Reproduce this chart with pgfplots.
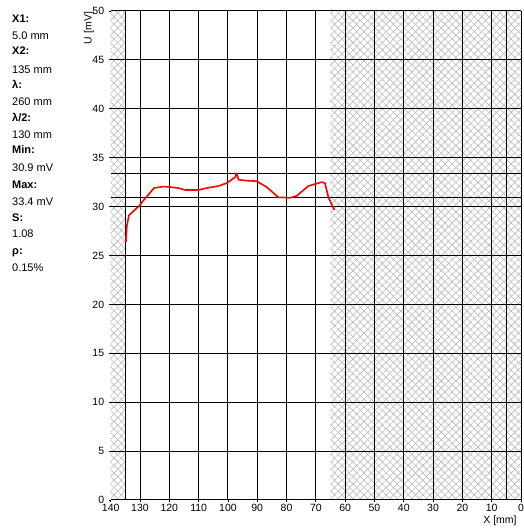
\documentclass[border=0pt]{standalone}
\usepackage{fontspec}
\setmainfont{Liberation Sans}
\usepackage{pgfplots}
\pgfplotsset{compat=1.18}
\usetikzlibrary{patterns.meta}
\begin{document}
\begin{tikzpicture}[font=\fontsize{10.5}{12}\selectfont]
\begin{axis}[
  set layers,
  at={(110.7pt,28pt)}, anchor=south west,
  scale only axis, width=410.3pt, height=489pt,
  xmin=0, xmax=140, ymin=0, ymax=50, x dir=reverse,
  axis x line=bottom, axis y line=left,
  y axis line style={draw=none},
  axis line style={black, line width=1pt, -},
  xtick={0,10,...,130}, extra x ticks={140}, extra x tick style={grid=none},
  ytick={0,5,...,50},
  grid=major, grid style={black, line width=1pt},
  tick style={black, line width=0.8pt},
  tick align=outside, major tick length=2pt,
  /pgf/number format/assume math mode=true,
  ticklabel style={font=\fontsize{10.5}{12}\selectfont},
  xticklabel style={yshift=1pt},
  yticklabel style={xshift=-1pt},
  clip=false,
]
% hatched (excluded) regions
\addplot[on layer=axis background, draw=none, pattern={Lines[angle=45,distance=5.2pt,line width=0.6pt]}, pattern color=gray!55]
  coordinates {(140,0) (135,0) (135,50) (140,50) (140,0)};
\addplot[on layer=axis background, draw=none, pattern={Lines[angle=-45,distance=5.2pt,line width=0.6pt]}, pattern color=gray!55]
  coordinates {(140,0) (135,0) (135,50) (140,50) (140,0)};
\addplot[on layer=axis background, draw=none, pattern={Lines[angle=45,distance=5.2pt,line width=0.6pt]}, pattern color=gray!55]
  coordinates {(65,0) (0,0) (0,50) (65,50) (65,0)};
\addplot[on layer=axis background, draw=none, pattern={Lines[angle=-45,distance=5.2pt,line width=0.6pt]}, pattern color=gray!55]
  coordinates {(65,0) (0,0) (0,50) (65,50) (65,0)};
% X1, X2 marker lines
\addplot[black, line width=1pt] coordinates {(135,0) (135,50)};
\addplot[black, line width=1pt] coordinates {(5,0) (5,50)};
% Min / Max lines
\addplot[black, line width=1pt] coordinates {(140,30.9) (0,30.9)};
\addplot[black, line width=1pt] coordinates {(140,33.4) (0,33.4)};
% measured curve
\addplot[red, line width=1.6pt, line join=round] coordinates {
(134.8,26.4) (134.5,28.0) (133.8,29.1) (132,29.6) (130.2,30.1) (128.9,30.6)
(125.2,31.9) (122,32.05) (119.8,32.0) (116.9,31.9) (114.6,31.7) (110.1,31.7)
(107.2,31.9) (103.3,32.1) (100.4,32.4) (97.6,33.0) (97.0,33.4) (96.4,32.75)
(93.6,32.65) (90.2,32.6) (86.8,32.0) (82.8,30.95) (78.8,30.9) (76.5,31.1)
(72.6,32.1) (68.0,32.5) (66.9,32.4) (65.7,30.95) (63.7,29.65)
};
\end{axis}
% side panel
\begin{scope}[every node/.style={anchor=west, inner sep=0pt, font=\fontsize{11}{13}\selectfont}]
\node at (12pt,509pt) {\textbf{X1:}};
\node at (12pt,492pt) {5.0 mm};
\node at (12pt,477pt) {\textbf{X2:}};
\node at (12pt,458pt) {135 mm};
\node at (12pt,444pt) {\textbf{λ:}};
\node at (12pt,426pt) {260 mm};
\node at (12pt,411pt) {\textbf{λ/2:}};
\node at (12pt,393pt) {130 mm};
\node at (12pt,378pt) {\textbf{Min:}};
\node at (12pt,360pt) {30.9 mV};
\node at (12pt,343pt) {\textbf{Max:}};
\node at (12pt,326pt) {33.4 mV};
\node at (12pt,310pt) {\textbf{S:}};
\node at (12pt,294pt) {1.08};
\node at (12pt,275pt) {\textbf{ρ:}};
\node at (12pt,260pt) {0.15\%};
\end{scope}
\node[rotate=90, inner sep=0pt] at (89pt,500pt) {U [mV]};
\node[inner sep=0pt] at (500pt,7pt) {X [mm]};
\pgfresetboundingbox
\path (0pt,0pt) rectangle (523pt,528pt);
\end{tikzpicture}
\end{document}
